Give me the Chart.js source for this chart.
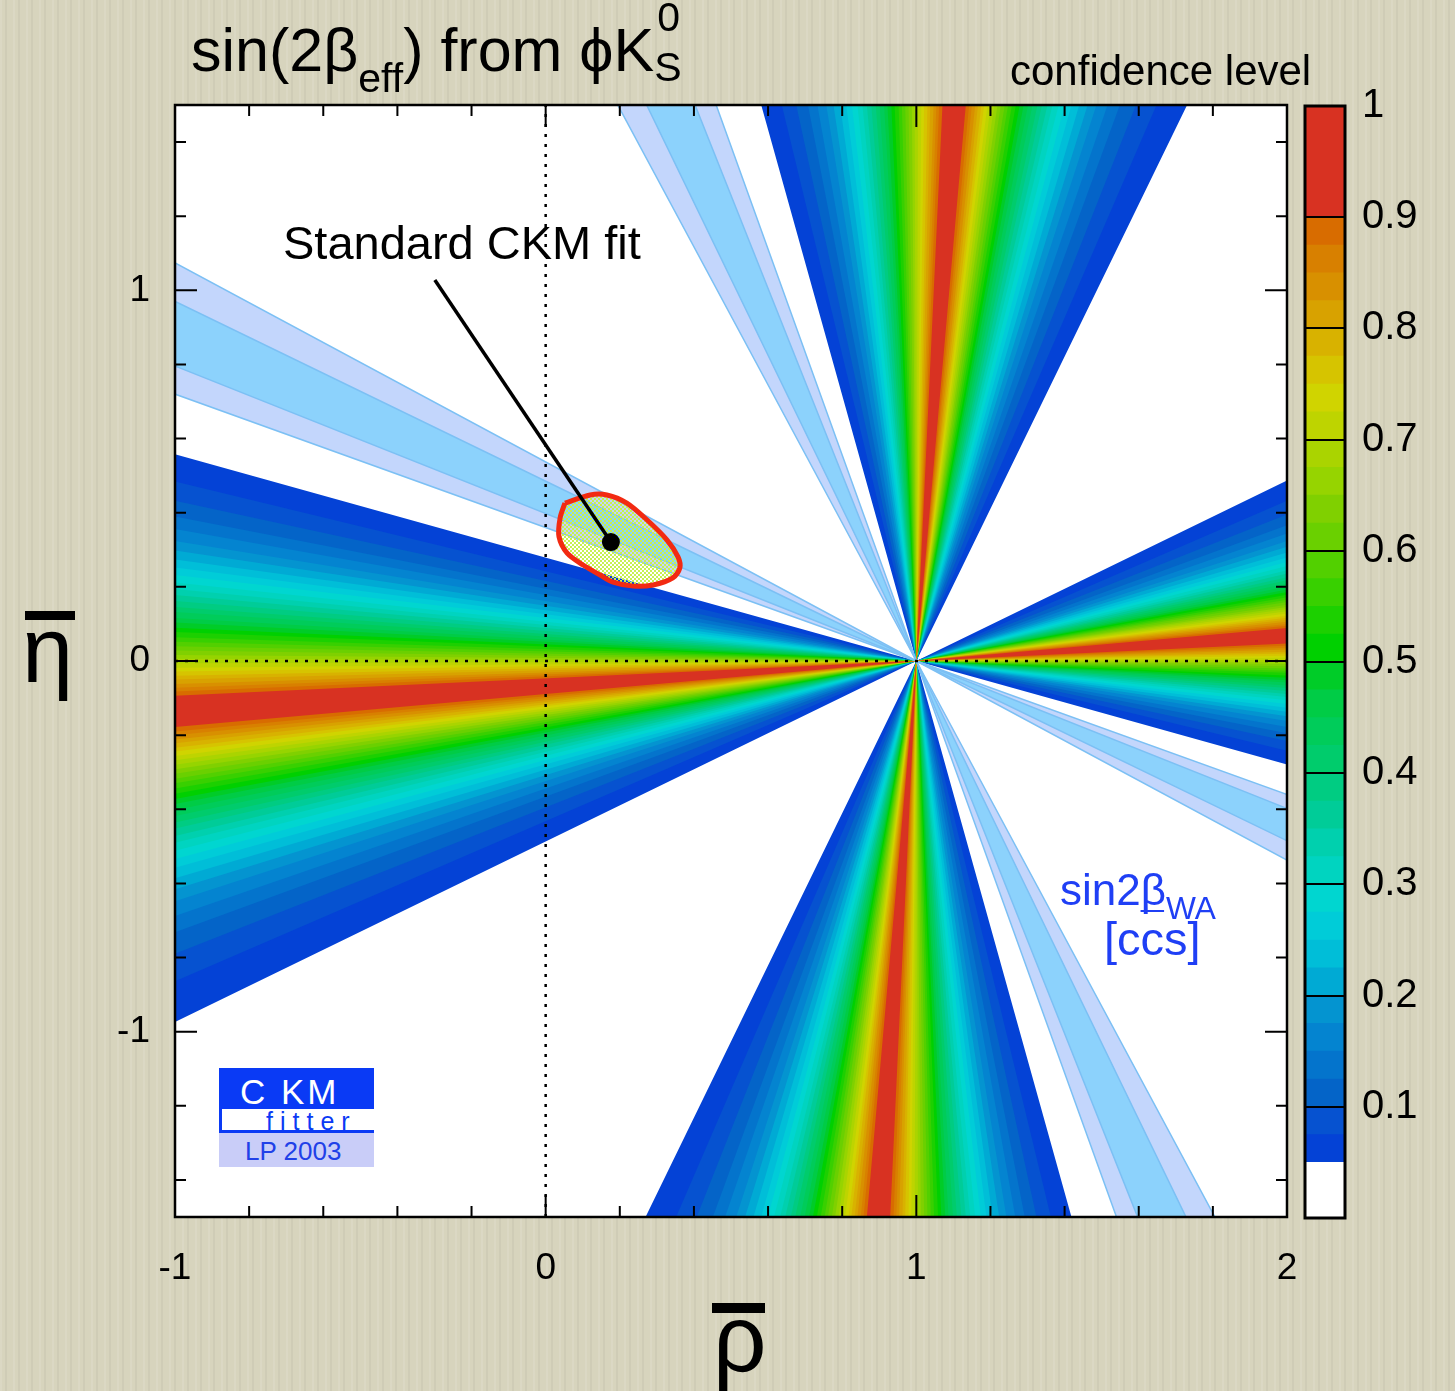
<!DOCTYPE html>
<html>
<head>
<meta charset="utf-8">
<title>sin(2beta_eff) from phi K_S</title>
<script src="https://cdn.jsdelivr.net/npm/chart.js"></script>
<style>
  html, body { margin: 0; padding: 0; }
  body {
    width: 1455px; height: 1391px; position: relative; overflow: hidden;
    background-color: #d7d4bd;
    background-image: repeating-linear-gradient(90deg,
      rgba(255,255,255,0.10) 0px, rgba(255,255,255,0.10) 2px,
      rgba(0,0,0,0) 2px, rgba(0,0,0,0) 5px,
      rgba(0,0,0,0.04) 5px, rgba(0,0,0,0.04) 7px,
      rgba(0,0,0,0) 7px, rgba(0,0,0,0) 13px);
    font-family: "Liberation Sans", Arial, Helvetica, sans-serif;
  }
  canvas { position: absolute; }
  .txt { position: absolute; white-space: nowrap; line-height: 1; color: #000; }
  .bar { position: absolute; background: #000; }
  .ss { position: relative; display: inline-block; width: 0.62em; height: 1px; }
  .ss span { position: absolute; left: 0; font-size: 41px; line-height: 1; }
  .blue { color: #1f3ff5; }
</style>
</head>
<body>
<canvas id="main" width="1455" height="1391" style="left:0;top:0"></canvas>
<canvas id="cbar" width="165" height="1194" style="left:1290px;top:65px"></canvas>

<div class="txt" style="left:191px;top:20px;font-size:61px">sin(2β<span style="font-size:41px;position:relative;top:21px">eff</span>) from ϕK<span class="ss"><span style="top:-73px;left:3px">0</span><span style="top:-23px">S</span></span></div>
<div class="txt" style="left:1010px;top:50px;font-size:42px">confidence level</div>
<div class="txt" style="left:283px;top:219px;font-size:47px">Standard CKM fit</div>

<div class="txt blue" style="left:1060px;top:868px;font-size:44px">sin2β<span style="font-size:0.72em;position:relative;top:0.45em">WA</span></div>
<div class="txt blue" style="left:1104px;top:915px;font-size:47px">[c<span style="text-decoration:overline;text-decoration-thickness:2px">c</span>s]</div>

<div class="txt" style="left:22px;top:604px;font-size:92px">η</div>
<div class="bar" style="left:25px;top:611px;width:50px;height:9px"></div>
<div class="txt" style="left:713px;top:1292px;font-size:94px">ρ</div>
<div class="bar" style="left:712px;top:1303px;width:53px;height:10px"></div>

<!-- CKMfitter logo -->
<div style="position:absolute;left:219px;top:1068px;width:155px;height:41px;background:#0a3af5"></div>
<div class="txt" style="left:240px;top:1074px;font-size:35px;color:#fff;letter-spacing:3px">C KM</div>
<div style="position:absolute;left:219px;top:1109px;width:152px;height:21px;background:#fff;border-left:3px solid #0a3af5;border-bottom:3px solid #0a3af5"></div>
<div class="txt" style="left:266px;top:1109px;font-size:25px;color:#0a3af5;letter-spacing:7px">fitter</div>
<div style="position:absolute;left:219px;top:1133px;width:155px;height:34px;background:#c9cdf8"></div>
<div class="txt" style="left:245px;top:1138px;font-size:26px;color:#2040e8">LP 2003</div>

<script>
// apex of the wedges (rho, eta)
const apexRho = 1, apexEta = 0;

// axis tick positions (labels only on whole numbers)
const rhoTicks = [-1, -0.8, -0.6, -0.4, -0.2, 0, 0.2, 0.4, 0.6, 0.8, 1, 1.2, 1.4, 1.6, 1.8, 2];
const etaTicks = [-1.4, -1.2, -1, -0.8, -0.6, -0.4, -0.2, 0, 0.2, 0.4, 0.6, 0.8, 1, 1.2, 1.4];
const clTicks = [0, 0.1, 0.2, 0.3, 0.4, 0.5, 0.6, 0.7, 0.8, 0.9, 1];

// confidence level contours of sin(2beta_eff) from phi K_S
const clLevels = [0.05, 0.075, 0.1, 0.125, 0.15, 0.175, 0.2, 0.225, 0.25, 0.275,
  0.3, 0.325, 0.35, 0.375, 0.4, 0.425, 0.45, 0.475, 0.5, 0.525,
  0.55, 0.575, 0.6, 0.625, 0.65, 0.675, 0.7, 0.725, 0.75, 0.775,
  0.8, 0.825, 0.85, 0.875, 0.9];
// tan(beta) of each contour edge (eta = 2 tan(beta) along rho = -1)
const tanBetaHigh = [0.279, 0.242, 0.216, 0.195, 0.178, 0.162, 0.149, 0.137, 0.126, 0.116,
  0.106, 0.097, 0.089, 0.081, 0.073, 0.066, 0.058, 0.052, 0.045, 0.039,
  0.032, 0.026, 0.020, 0.014, 0.008, 0.003, -0.003, -0.009, -0.014, -0.020,
  -0.025, -0.031, -0.036, -0.041, -0.047];
const tanBetaLow = [-0.487, -0.432, -0.395, -0.366, -0.344, -0.324, -0.308, -0.293, -0.279, -0.267,
  -0.256, -0.245, -0.236, -0.226, -0.218, -0.209, -0.201, -0.193, -0.186, -0.179,
  -0.172, -0.165, -0.159, -0.152, -0.146, -0.140, -0.134, -0.128, -0.122, -0.117,
  -0.111, -0.106, -0.100, -0.095, -0.089];
const clColors = ['#0442d6', '#0652d0', '#0464c8', '#0474cc', '#0484d0', '#0494d0', '#00aad4', '#00bed8', '#00ccd8', '#00d6d0',
  '#00d4c0', '#00d0ae', '#00cc98', '#00cc82', '#00cc6c', '#00cc5a', '#00cc46', '#00cc28', '#00d000', '#1cd000',
  '#38d000', '#52d000', '#6ad000', '#80d000', '#96d400', '#aad400', '#bed400', '#d0d400', '#d6c400', '#d8b200',
  '#d8a200', '#d89000', '#d88000', '#d86c00', '#d83222'];

// sin2beta world average [ccbar s]: tan(beta) edges of the 2 sigma and 1 sigma bands
const ccsTan2Sigma = [0.360, 0.537];
const ccsTan1Sigma = [0.398, 0.485];

// standard CKM fit contour and fit point
const ckmRho = [0.052, 0.120, 0.165, 0.219, 0.273, 0.327, 0.357, 0.362, 0.343, 0.290, 0.236, 0.182, 0.147, 0.101, 0.058, 0.036, 0.039];
const ckmEta = [0.426, 0.448, 0.448, 0.426, 0.381, 0.327, 0.281, 0.251, 0.224, 0.205, 0.202, 0.213, 0.232, 0.259, 0.291, 0.335, 0.386];
const fitRho = 0.176, fitEta = 0.321;
const labelRho = -0.299, labelEta = 1.028;

const family = '"Liberation Sans", Arial, Helvetica, sans-serif';
const isInt = v => Math.abs(v - Math.round(v)) < 1e-6;

// bow-tie through the apex between two rays (horizontal or vertical family)
function wedgePoints(tA, tB, vertical) {
  const far = vertical
    ? t => [{x: apexRho - 1.7 * t, y: apexEta + 1.7}, {x: apexRho + 1.7 * t, y: apexEta - 1.7}]
    : t => [{x: apexRho - 2.2, y: apexEta + 2.2 * t}, {x: apexRho + 1.2, y: apexEta - 1.2 * t}];
  const [a1, a2] = far(tA);
  const [b1, b2] = far(tB);
  const apex = {x: apexRho, y: apexEta};
  return [a1, b1, apex, a2, b2, apex, a1];
}

const datasets = [];

// coloured CL wedges, outer levels first
[false, true].forEach((vertical, f) => {
  clLevels.forEach((c, i) => {
    datasets.push({
      data: wedgePoints(tanBetaLow[i], tanBetaHigh[i], vertical),
      backgroundColor: clColors[i],
      borderWidth: 0,
      fill: 'shape',
      pointRadius: 0,
      order: 2000 - f * 100 - i
    });
  });
});

// sin2beta [ccs] bands
[false, true].forEach(vertical => {
  datasets.push({
    data: wedgePoints(ccsTan2Sigma[0], ccsTan2Sigma[1], vertical),
    backgroundColor: '#c3d6fc', borderColor: '#7cc0f4', borderWidth: 1.5,
    fill: 'shape', pointRadius: 0, order: 60
  });
  datasets.push({
    data: wedgePoints(ccsTan1Sigma[0], ccsTan1Sigma[1], vertical),
    backgroundColor: '#8cd2fc', borderColor: '#7cc0f4', borderWidth: 1.5,
    fill: 'shape', pointRadius: 0, order: 50
  });
});

// hatched fill for the CKM fit region
const pc = document.createElement('canvas');
pc.width = 4; pc.height = 4;
const pctx = pc.getContext('2d');
pctx.fillStyle = '#c8f050';
pctx.fillRect(0, 0, 2, 2);
pctx.fillRect(2, 2, 2, 2);
const hatch = document.getElementById('main').getContext('2d').createPattern(pc, 'repeat');

const ckmPoints = ckmRho.map((r, i) => ({x: r, y: ckmEta[i]}));
ckmPoints.push(ckmPoints[0]);
datasets.push({
  data: ckmPoints, backgroundColor: hatch, borderColor: '#f22a12', borderWidth: 5,
  fill: 'shape', tension: 0.3, pointRadius: 0, order: 30
});

// dotted axes at rho = 0 and eta = 0
datasets.push({
  data: [{x: 0, y: -1.5}, {x: 0, y: 1.5}], borderColor: '#000', borderWidth: 2.5,
  borderDash: [3, 7], fill: false, pointRadius: 0, order: 20
});
datasets.push({
  data: [{x: -1, y: 0}, {x: 2, y: 0}], borderColor: '#000', borderWidth: 2.5,
  borderDash: [3, 7], fill: false, pointRadius: 0, order: 20
});

// label pointer
datasets.push({
  data: [{x: labelRho, y: labelEta}, {x: fitRho, y: fitEta}], borderColor: '#000', borderWidth: 3.5,
  fill: false, pointRadius: 0, order: 10
});
datasets.push({
  data: [{x: fitRho, y: fitEta}], showLine: false, pointRadius: 9, pointBackgroundColor: '#000',
  pointBorderWidth: 0, order: 5
});

const frameAndTicks = {
  id: 'frameAndTicks',
  beforeDraw(chart) {
    const {ctx, chartArea: a} = chart;
    ctx.save();
    ctx.fillStyle = '#fff';
    ctx.fillRect(a.left, a.top, a.right - a.left, a.bottom - a.top);
    ctx.restore();
  },
  afterDatasetsDraw(chart) {
    const {ctx, chartArea: a, scales: {x, y}} = chart;
    ctx.save();
    ctx.strokeStyle = '#000';
    ctx.lineWidth = 2;
    ctx.beginPath();
    x.ticks.forEach(t => {
      const len = isInt(t.value) ? 22 : 11;
      const px = x.getPixelForValue(t.value);
      ctx.moveTo(px, a.bottom); ctx.lineTo(px, a.bottom - len);
      ctx.moveTo(px, a.top); ctx.lineTo(px, a.top + len);
    });
    y.ticks.forEach(t => {
      const len = isInt(t.value) ? 22 : 11;
      const py = y.getPixelForValue(t.value);
      ctx.moveTo(a.left, py); ctx.lineTo(a.left + len, py);
      ctx.moveTo(a.right, py); ctx.lineTo(a.right - len, py);
    });
    ctx.stroke();
    ctx.lineWidth = 2.5;
    ctx.strokeRect(a.left, a.top, a.right - a.left, a.bottom - a.top);
    ctx.restore();
  }
};

new Chart(document.getElementById('main'), {
  type: 'line',
  data: {datasets},
  options: {
    responsive: false,
    animation: false,
    devicePixelRatio: 1,
    layout: {padding: {top: 105, right: 168, left: 0, bottom: 0}},
    plugins: {legend: {display: false}, tooltip: {enabled: false}},
    elements: {line: {tension: 0}},
    scales: {
      x: {
        type: 'linear', min: -1, max: 2,
        afterFit: s => { s.height = 174; },
        afterBuildTicks: s => { s.ticks = rhoTicks.map(v => ({value: v})); },
        grid: {display: false, drawTicks: false},
        border: {display: false},
        ticks: {
          autoSkip: false, maxRotation: 0, padding: 30, color: '#000',
          font: {size: 37, family},
          callback: v => isInt(v) ? String(Math.round(v)) : ''
        }
      },
      y: {
        type: 'linear', min: -1.5, max: 1.5,
        afterFit: s => { s.width = 175; },
        afterBuildTicks: s => { s.ticks = etaTicks.map(v => ({value: v})); },
        grid: {display: false, drawTicks: false},
        border: {display: false},
        ticks: {
          autoSkip: false, padding: 25, color: '#000',
          font: {size: 37, family},
          callback: v => isInt(v) ? String(Math.round(v)) : ''
        }
      }
    }
  },
  plugins: [frameAndTicks]
});

// colour scale: white below the first level, then one band per level up to 1
const bandHeights = [clLevels[0]].concat(clLevels.map((c, i) => (i + 1 < clLevels.length ? clLevels[i + 1] : 1) - c));
const bandColors = ['#ffffff'].concat(clColors);

const outline = {
  id: 'outline',
  afterDraw(chart) {
    const {ctx, chartArea: a} = chart;
    ctx.save();
    ctx.strokeStyle = '#000';
    ctx.lineWidth = 3;
    ctx.strokeRect(a.left, a.top, a.right - a.left, a.bottom - a.top);
    ctx.restore();
  }
};

new Chart(document.getElementById('cbar'), {
  type: 'bar',
  data: {
    labels: [''],
    datasets: bandHeights.map((h, i) => ({
      data: [h], backgroundColor: bandColors[i], borderWidth: 0,
      barPercentage: 1, categoryPercentage: 1
    }))
  },
  options: {
    responsive: false,
    animation: false,
    devicePixelRatio: 1,
    layout: {padding: {left: 15, top: 12, bottom: 6, right: 0}},
    plugins: {legend: {display: false}, tooltip: {enabled: false}},
    scales: {
      x: {display: false, stacked: true},
      y: {
        position: 'right', stacked: true, min: 0, max: 1,
        afterFit: s => { s.width = 110; },
        afterBuildTicks: s => { s.ticks = clTicks.map(v => ({value: v})); },
        grid: {color: '#000', lineWidth: 2, drawTicks: false, z: 1},
        border: {display: false},
        ticks: {
          padding: 17, color: '#000', font: {size: 40, family},
          callback: v => v === 0 ? '' : String(v)
        }
      }
    }
  },
  plugins: [outline]
});
</script>
</body>
</html>
